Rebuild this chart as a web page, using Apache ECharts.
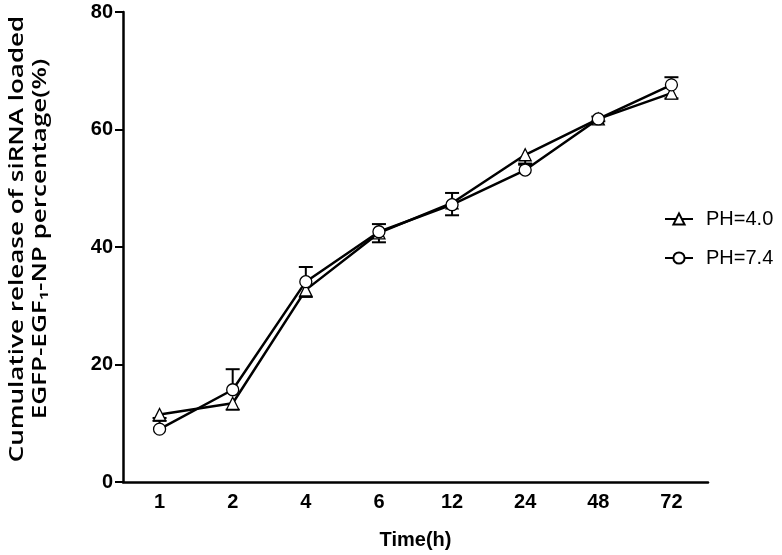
<!DOCTYPE html>
<html>
<head>
<meta charset="utf-8">
<script src="https://cdn.jsdelivr.net/npm/echarts@6/dist/echarts.min.js"></script>
<style>
html,body{margin:0;padding:0;background:#fff;}
#chart{width:782px;height:555px;}
</style>
</head>
<body>
<div id="chart"></div>
<script>
var categories = ['1', '2', '4', '6', '12', '24', '48', '72'];
var ph40 = [11.5, 13.4, 32.7, 42.4, 47.5, 55.7, 61.8, 66.2];
var ph40Err = [1.1, 1.1, 1.2, 1.6, 2.1, 1.5, 0.4, 0.9];
var ph74 = [9.0, 15.7, 34.1, 42.6, 47.2, 53.1, 61.8, 67.6];
var ph74Err = [1.9, 3.5, 2.5, 1.3, 2.0, 0.9, 0.4, 1.3];
var yTicks = [0, 20, 40, 60, 80];
var yTitle = 'Cumulative release of siRNA loaded\nEGFP-EGF\u2081-NP percentage(%)';

var chart = echarts.init(document.getElementById('chart'), null, {renderer: 'canvas'});

function errData(vals, errs, dir) {
  return vals.map(function (v, i) { return [i, v, +(v + dir * errs[i]).toFixed(2)]; });
}

function renderErr(params, api) {
  var x = api.value(0);
  var p0 = api.coord([x, api.value(1)]);
  var p1 = api.coord([x, api.value(2)]);
  var hw = 7;
  var st = {stroke: '#000', lineWidth: 2};
  return {
    type: 'group',
    children: [
      {type: 'line', shape: {x1: p0[0], y1: p0[1], x2: p1[0], y2: p1[1]}, style: st},
      {type: 'line', shape: {x1: p1[0] - hw, y1: p1[1], x2: p1[0] + hw, y2: p1[1]}, style: st}
    ]
  };
}

var tickFont = '"Liberation Sans", Arial, sans-serif';

var option = {
  animation: false,
  backgroundColor: '#fff',
  grid: {left: 123, right: 74, top: 12, bottom: 73, containLabel: false},
  graphic: [{
    type: 'text',
    x: 29,
    y: 239,
    rotation: Math.PI / 2,
    scaleX: 1.37,
    style: {
      text: yTitle,
      fontFamily: '"Open Sans", sans-serif',
      fontWeight: 600,
      fontSize: 19,
      lineHeight: 23,
      fill: '#000',
      align: 'center',
      verticalAlign: 'middle'
    }
  }],
  legend: {
    orient: 'vertical',
    left: 659,
    top: 204,
    itemWidth: 28,
    itemHeight: 14,
    itemGap: 19,
    data: ['PH=4.0', 'PH=7.4'],
    textStyle: {fontFamily: 'Liberation Sans, Arial, sans-serif', fontSize: 20, color: '#000', padding: [0, 0, 0, 8]}
  },
  xAxis: {
    type: 'category',
    data: categories,
    boundaryGap: true,
    name: 'Time(h)',
    nameLocation: 'middle',
    nameGap: 48,
    nameTextStyle: {fontFamily: tickFont, fontWeight: 'bold', fontSize: 20, color: '#000'},
    axisLine: {lineStyle: {color: '#000', width: 2.5}},
    axisTick: {alignWithLabel: true, length: 7, lineStyle: {color: '#000', width: 2}},
    axisLabel: {fontFamily: tickFont, fontWeight: 'bold', fontSize: 20, color: '#000', margin: 10},
    splitLine: {show: false}
  },
  yAxis: {
    type: 'value',
    min: 0,
    max: 80,
    interval: 20,
    axisLine: {show: true, lineStyle: {color: '#000', width: 2.5}},
    axisTick: {show: true, length: 8, lineStyle: {color: '#000', width: 2}},
    axisLabel: {fontFamily: tickFont, fontWeight: 'bold', fontSize: 20, color: '#000', margin: 10,
      formatter: function (v) { return yTicks.indexOf(v) >= 0 ? String(v) : ''; }},
    splitLine: {show: false}
  },
  series: [
    {
      type: 'custom',
      name: 'err40',
      renderItem: renderErr,
      data: errData(ph40, ph40Err, -1),
      z: 1,
      silent: true
    },
    {
      type: 'custom',
      name: 'err74',
      renderItem: renderErr,
      data: errData(ph74, ph74Err, 1),
      z: 1,
      silent: true
    },
    {
      name: 'PH=4.0',
      type: 'line',
      data: ph40,
      symbol: 'triangle',
      symbolSize: 12,
      showAllSymbol: true,
      lineStyle: {color: '#000', width: 2.5},
      itemStyle: {color: '#fff', borderColor: '#000', borderWidth: 1.3},
      z: 3
    },
    {
      name: 'PH=7.4',
      type: 'line',
      data: ph74,
      symbol: 'circle',
      symbolSize: 12,
      showAllSymbol: true,
      lineStyle: {color: '#000', width: 2.5},
      itemStyle: {color: '#fff', borderColor: '#000', borderWidth: 1.3},
      z: 3
    }
  ]
};
chart.setOption(option);
</script>
</body>
</html>
